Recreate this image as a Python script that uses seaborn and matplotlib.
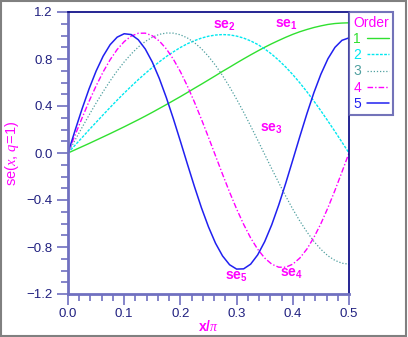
import numpy as np
import pandas as pd
import matplotlib
matplotlib.use("Agg")
import matplotlib.pyplot as plt
from matplotlib.ticker import MultipleLocator
from matplotlib.lines import Line2D
from matplotlib.patches import Rectangle
import seaborn as sns

sns.set_style("white")
plt.rcParams["font.family"] = ["Liberation Sans", "DejaVu Sans"]
plt.rcParams["mathtext.fontset"] = "custom"
plt.rcParams["mathtext.rm"] = "Liberation Sans"
plt.rcParams["mathtext.it"] = "Liberation Serif:italic"
plt.rcParams["mathtext.bf"] = "Liberation Sans:bold"

x_over_pi = [i * 0.0125 for i in range(41)]
se1 = [0.000, 0.027, 0.054, 0.081, 0.109, 0.137, 0.165, 0.194, 0.223,
       0.253, 0.283, 0.314, 0.346, 0.379, 0.412, 0.446, 0.480, 0.515,
       0.551, 0.586, 0.622, 0.658, 0.695, 0.730, 0.766, 0.801, 0.835,
       0.868, 0.900, 0.930, 0.958, 0.985, 1.010, 1.032, 1.051, 1.068,
       1.082, 1.094, 1.102, 1.106, 1.108]
se2 = [0.000, 0.066, 0.131, 0.197, 0.261, 0.325, 0.388, 0.450, 0.510,
       0.568, 0.624, 0.677, 0.728, 0.776, 0.821, 0.861, 0.898, 0.930,
       0.956, 0.978, 0.994, 1.004, 1.008, 1.005, 0.995, 0.978, 0.954,
       0.924, 0.886, 0.841, 0.789, 0.731, 0.667, 0.597, 0.522, 0.442,
       0.359, 0.272, 0.183, 0.092, 0.000]
se3 = [0.000, 0.109, 0.217, 0.323, 0.425, 0.522, 0.614, 0.699, 0.775,
       0.843, 0.902, 0.949, 0.985, 1.010, 1.021, 1.020, 1.006, 0.979,
       0.939, 0.887, 0.822, 0.746, 0.659, 0.563, 0.458, 0.347, 0.230,
       0.110, -0.012, -0.134, -0.253, -0.368, -0.478, -0.579, -0.671, -0.752,
       -0.820, -0.875, -0.914, -0.938, -0.946]
se4 = [0.000, 0.151, 0.298, 0.440, 0.571, 0.690, 0.794, 0.881, 0.948,
       0.995, 1.019, 1.020, 0.998, 0.953, 0.886, 0.798, 0.692, 0.569,
       0.433, 0.286, 0.133, -0.024, -0.181, -0.333, -0.476, -0.607, -0.723,
       -0.819, -0.894, -0.946, -0.972, -0.972, -0.946, -0.894, -0.818, -0.719,
       -0.601, -0.466, -0.318, -0.161, 0.000]
se5 = [0.000, 0.191, 0.375, 0.546, 0.697, 0.824, 0.922, 0.986, 1.015,
       1.008, 0.964, 0.885, 0.774, 0.634, 0.471, 0.291, 0.100, -0.095,
       -0.286, -0.467, -0.629, -0.768, -0.876, -0.951, -0.988, -0.986, -0.946,
       -0.867, -0.754, -0.611, -0.442, -0.256, -0.059, 0.140, 0.333, 0.513,
       0.671, 0.802, 0.899, 0.959, 0.980]

orders = ["1", "2", "3", "4", "5"]
series = [se1, se2, se3, se4, se5]
colors = ["#30e030", "#00e8f0", "#50a0a0", "#ff00ff", "#2020f0"]
styles = ["-", (0, (2, 1)), (0, (1, 1.5)), (0, (4, 1.5, 1, 1.5)), "-"]
widths = [1.0, 1.0, 0.9, 1.0, 1.1]

label_text = [r"$\mathbf{se_1}$", r"$\mathbf{se_2}$", r"$\mathbf{se_3}$",
              r"$\mathbf{se_4}$", r"$\mathbf{se_5}$"]
label_x = [0.388, 0.279, 0.361, 0.397, 0.299]
label_y = [1.09, 1.08, 0.21, -1.03, -1.055]

axis_col = "#7070c0"
navy = "#000080"
tick_col = "#202080"
mag = "#ff00ff"

fig = plt.figure(figsize=(4.08, 3.37), dpi=100)
ax = fig.add_axes([68 / 408, 1 - 294 / 337, (349 - 68) / 408, (294 - 12) / 337])

for s, c, ls, lw in zip(series, colors, styles, widths):
    sns.lineplot(x=x_over_pi, y=s, ax=ax, color=c, linestyle=ls, linewidth=lw)

for t, xx, yy in zip(label_text, label_x, label_y):
    ax.text(xx, yy, t, color=mag, fontsize=10, ha="center", va="center")

ax.set_xlim(0, 0.5)
ax.set_ylim(-1.2, 1.2)
ax.xaxis.set_major_locator(MultipleLocator(0.1))
ax.xaxis.set_minor_locator(MultipleLocator(0.02))
ax.yaxis.set_major_locator(MultipleLocator(0.4))
ax.yaxis.set_minor_locator(MultipleLocator(0.1))
ax.set_xticks(ax.get_xticks())
ax.set_xticklabels([f"{v:.1f}" for v in ax.get_xticks()])
ax.set_yticks(ax.get_yticks())
ax.set_yticklabels([f"{v:.1f}".replace("-", "\u2212") for v in ax.get_yticks()])
ax.set_xlim(0, 0.5)
ax.set_ylim(-1.2, 1.2)
ax.tick_params(which="major", direction="out", length=8, width=1.2, color=axis_col,
               labelcolor=tick_col, labelsize=9.5, pad=3)
ax.tick_params(which="minor", direction="out", length=5, width=1.2, color=axis_col)
ax.tick_params(axis="x", which="both", bottom=True, top=False)
ax.tick_params(axis="y", which="both", left=True, right=False)
ax.tick_params(axis="x", which="major", pad=2)

for side in ["left", "bottom"]:
    ax.spines[side].set_color(axis_col)
    ax.spines[side].set_linewidth(2)
for side in ["top", "right"]:
    ax.spines[side].set_color(navy)
    ax.spines[side].set_linewidth(1.2)

xl = ax.set_xlabel(r"x/$\pi$", color=mag, fontsize=10, fontweight="bold")
xl.set_verticalalignment("center")
ax.xaxis.set_label_coords(0.5, -0.115)
ax.set_ylabel(r"se$(x,\,q\!=\!1)$", color=mag, fontsize=10.5, labelpad=4)

handles = [Line2D([0], [0], color=c, linestyle=ls, linewidth=lw)
           for c, ls, lw in zip(colors, styles, widths)]
leg = ax.legend(handles, orders, title="Order", loc="upper left",
                bbox_to_anchor=(1.0, 1.0), markerfirst=False, fontsize=10,
                title_fontsize=10, frameon=True, fancybox=False,
                handlelength=1.6, handletextpad=0.4, borderpad=0.3,
                labelspacing=0.15, borderaxespad=0.0)
leg.get_title().set_color(mag)
for txt, c in zip(leg.get_texts(), colors):
    txt.set_color(c)
leg.get_frame().set_edgecolor("#5050a8")
leg.get_frame().set_linewidth(1.5)

fig.patches.append(Rectangle((0.002, 0.003), 0.994, 0.994, transform=fig.transFigure,
                             fill=False, edgecolor="#808080", linewidth=1.5))

fig.savefig("out.png", dpi=100)
